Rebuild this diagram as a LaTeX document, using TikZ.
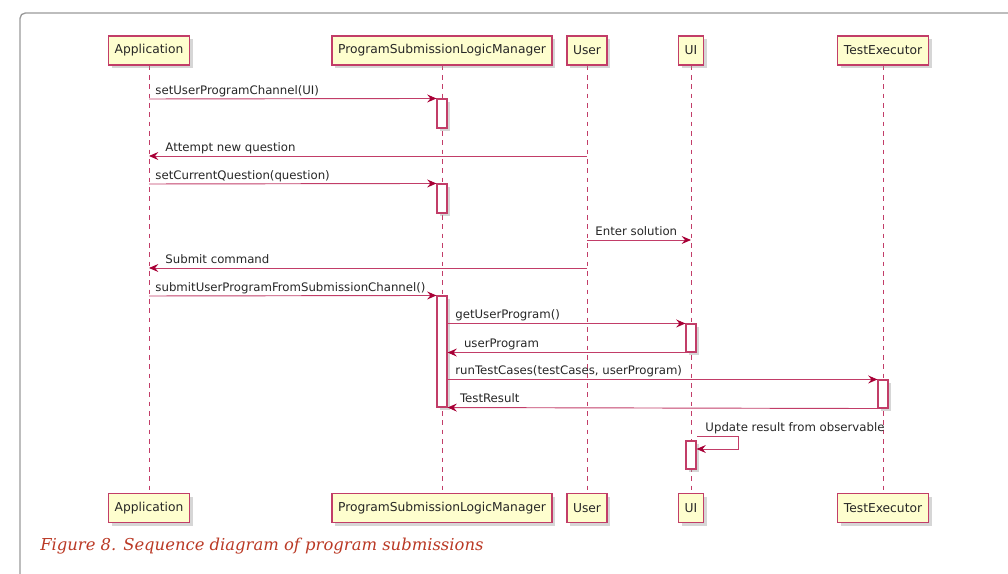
\documentclass[tikz,border=0pt]{standalone}
\usepackage{fontspec}
\setmainfont{DejaVu Sans}
\newfontfamily\capfont{DejaVu Serif}
\usetikzlibrary{arrows.meta}
\usetikzlibrary{shadows}
\pgfdeclarelayer{edgelayer}
\pgfdeclarelayer{nodelayer}
\pgfsetlayers{edgelayer,nodelayer,main}
\definecolor{umlred}{HTML}{A80036}
\definecolor{umlline}{HTML}{C23D68}
\definecolor{umlyellow}{HTML}{FEFECE}
\definecolor{framegray}{HTML}{9A9A9A}
\definecolor{captionred}{HTML}{BA3925}
\tikzstyle{participant}=[rectangle,draw=umlline,fill=umlyellow,line width=1pt,minimum height=21.75pt,inner xsep=4.6pt,font=\fontsize{9.2}{11}\selectfont,text=black!85,drop shadow={shadow xshift=2.5pt,shadow yshift=-2.5pt,fill=black!40,opacity=0.4}]
\tikzstyle{activation}=[rectangle,draw=umlline,fill=white,line width=0.8pt,minimum width=7.5pt,inner sep=0pt,drop shadow={shadow xshift=2pt,shadow yshift=-2pt,fill=black!40,opacity=0.4}]
\tikzstyle{lifeline}=[draw=umlline,line width=0.6pt,dash pattern=on 3.5pt off 3.5pt]
\tikzstyle{call}=[-{Stealth[length=7pt,width=6pt,inset=2.5pt,color=umlred]},draw=umlline,line width=0.7pt]
\tikzstyle{msgtext}=[font=\fontsize{8.8}{10}\selectfont,text=black!85,inner sep=0pt,anchor=base west,yshift=3.6pt]

\begin{document}
\begin{tikzpicture}[x=0.75pt,y=-0.75pt]
	\useasboundingbox (0,0) rectangle (1008,574);
	\begin{scope}
		\clip (0,0) rectangle (1008,574);
		\draw [framegray, line width=1pt, rounded corners=4pt] (20,13) rectangle (1040,610);
	\end{scope}
	\begin{pgfonlayer}{nodelayer}
		% participants, top and bottom
		\node [style=participant] (appT) at (149, 50.5) {Application};
		\node [style=participant] (mgrT) at (442, 50.5) {ProgramSubmissionLogicManager};
		\node [style=participant] (usrT) at (587, 50.5) {User};
		\node [style=participant] (uiT) at (691, 50.5) {UI};
		\node [style=participant] (teT) at (883, 50.5) {TestExecutor};
		\node [style=participant] (appB) at (149, 508) {Application};
		\node [style=participant] (mgrB) at (442, 508) {ProgramSubmissionLogicManager};
		\node [style=participant] (usrB) at (587, 508) {User};
		\node [style=participant] (uiB) at (691, 508) {UI};
		\node [style=participant] (teB) at (883, 508) {TestExecutor};
		% activations
		\node [style=activation, minimum height=21.75pt] (act1) at (442, 113.5) {};
		\node [style=activation, minimum height=21.75pt] (act2) at (442, 198.5) {};
		\node [style=activation, minimum height=83.25pt] (act3) at (442, 351.5) {};
		\node [style=activation, minimum height=21pt] (act4) at (691, 338) {};
		\node [style=activation, minimum height=21pt] (act5) at (883, 394) {};
		\node [style=activation, minimum height=21pt] (act6) at (691, 455) {};
		% message ends on the lifelines
		\coordinate (app1) at (149, 99);
		\coordinate (usr2) at (587, 156);
		\coordinate (app2) at (149, 156);
		\coordinate (app3) at (149, 184);
		\coordinate (usr4) at (587, 240);
		\coordinate (ui4) at (691, 240);
		\coordinate (usr5) at (587, 268);
		\coordinate (app5) at (149, 268);
		\coordinate (app6) at (149, 296);
		\coordinate (ui11) at (697, 436);
	\end{pgfonlayer}
	\begin{pgfonlayer}{edgelayer}
		\draw [style=lifeline] (appT) to (appB);
		\draw [style=lifeline] (mgrT) to (mgrB);
		\draw [style=lifeline] (usrT) to (usrB);
		\draw [style=lifeline] (uiT) to (uiB);
		\draw [style=lifeline] (teT) to (teB);
	\end{pgfonlayer}
	\draw [style=call] (app1) to node[style=msgtext, pos=0, xshift=4.5pt]{setUserProgramChannel(UI)} (act1.north west);
	\draw [style=call] (usr2) to node[style=msgtext, pos=1, xshift=12pt]{Attempt new question} (app2);
	\draw [style=call] (app3) to node[style=msgtext, pos=0, xshift=4.5pt]{setCurrentQuestion(question)} (act2.north west);
	\draw [style=call] (usr4) to node[style=msgtext, pos=0, xshift=6pt]{Enter solution} (ui4);
	\draw [style=call] (usr5) to node[style=msgtext, pos=1, xshift=12pt]{Submit command} (app5);
	\draw [style=call] (app6) to node[style=msgtext, pos=0, xshift=4.5pt]{submitUserProgramFromSubmissionChannel()} (act3.north west);
	\draw [style=call] (act3.east |- act4.north) to node[style=msgtext, pos=0, xshift=5.5pt]{getUserProgram()} (act4.north west);
	\draw [style=call] (act4.south west) to node[style=msgtext, pos=1, xshift=12pt]{userProgram} (act3.east |- act4.south);
	\draw [style=call] (act3.east |- act5.north) to node[style=msgtext, pos=0, xshift=5.5pt]{runTestCases(testCases, userProgram)} (act5.north west);
	\draw [style=call] (act5.south west) to node[style=msgtext, pos=1, xshift=9pt]{TestResult} (act3.south east);
	\draw [style=call] (ui11) -- node[style=msgtext, pos=0, xshift=6pt]{Update result from observable} ++(41,0) -- ++(0,13) -- (act6.east |- 0,449);
	% caption
	\node [font=\capfont\itshape\fontsize{12.3}{14}\selectfont, text=captionred, anchor=base west, inner sep=0pt] (caption) at (40, 550) {Figure 8. Sequence diagram of program submissions};
\end{tikzpicture}
\end{document}
